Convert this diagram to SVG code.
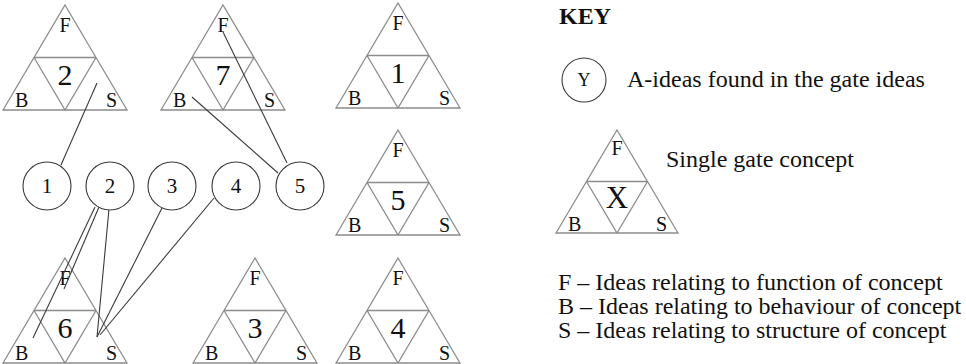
<svg xmlns="http://www.w3.org/2000/svg" xmlns:xlink="http://www.w3.org/1999/xlink" width="966" height="364" viewBox="0 0 966 364" font-family="'Liberation Serif', 'DejaVu Serif', serif">
<style>
  .tri { fill: none; stroke: #8c8c8c; stroke-width: 1.3; }
  .circ { fill: #ffffff; stroke: #3a3a3a; stroke-width: 1.1; }
  .conn { stroke: #3a3a3a; stroke-width: 1.1; fill: none; }
  text { font-family: 'Liberation Serif', 'DejaVu Serif', serif; fill: #111; }
  .lbl { font-size: 20px; }
  .num { font-size: 30px; text-anchor: middle; }
  .cnum { font-size: 21px; text-anchor: middle; }
  .mid { text-anchor: middle; }
  .end { text-anchor: end; }
  .key { font-size: 24px; }
</style>
<defs>
  <path id="triShape" class="tri" d="M0,0 L62,105 L-62,105 Z M-31,52.5 L31,52.5 M-31,52.5 L0,105 L31,52.5"/>
</defs>
<rect width="966" height="364" fill="#ffffff"/>

<g id="gate-2" transform="translate(65,5)">
  <use xlink:href="#triShape"/>
  <text class="lbl mid" x="0" y="27">F</text>
  <text class="num" x="0" y="80">2</text>
  <text class="lbl" x="-50" y="102">B</text>
  <text class="lbl end" x="52" y="102">S</text>
</g>
<g id="gate-7" transform="translate(223,5)">
  <use xlink:href="#triShape"/>
  <text class="lbl mid" x="0" y="27">F</text>
  <text class="num" x="0" y="80">7</text>
  <text class="lbl" x="-50" y="102">B</text>
  <text class="lbl end" x="52" y="102">S</text>
</g>
<g id="gate-1" transform="translate(398,3)">
  <use xlink:href="#triShape"/>
  <text class="lbl mid" x="0" y="27">F</text>
  <text class="num" x="0" y="80">1</text>
  <text class="lbl" x="-50" y="102">B</text>
  <text class="lbl end" x="52" y="102">S</text>
</g>
<g id="gate-5" transform="translate(398,130)">
  <use xlink:href="#triShape"/>
  <text class="lbl mid" x="0" y="27">F</text>
  <text class="num" x="0" y="80">5</text>
  <text class="lbl" x="-50" y="102">B</text>
  <text class="lbl end" x="52" y="102">S</text>
</g>
<g id="gate-6" transform="translate(65,258)">
  <use xlink:href="#triShape"/>
  <text class="lbl mid" x="0" y="27">F</text>
  <text class="num" x="0" y="80">6</text>
  <text class="lbl" x="-50" y="102">B</text>
  <text class="lbl end" x="52" y="102">S</text>
</g>
<g id="gate-3" transform="translate(255,258)">
  <use xlink:href="#triShape"/>
  <text class="lbl mid" x="0" y="27">F</text>
  <text class="num" x="0" y="80">3</text>
  <text class="lbl" x="-50" y="102">B</text>
  <text class="lbl end" x="52" y="102">S</text>
</g>
<g id="gate-4" transform="translate(398,258)">
  <use xlink:href="#triShape"/>
  <text class="lbl mid" x="0" y="27">F</text>
  <text class="num" x="0" y="80">4</text>
  <text class="lbl" x="-50" y="102">B</text>
  <text class="lbl end" x="52" y="102">S</text>
</g>

<g id="connectors">
  <line class="conn" x1="61" y1="165" x2="97" y2="83"/>
  <line class="conn" x1="287" y1="163" x2="223" y2="32"/>
  <line class="conn" x1="278" y1="173" x2="192" y2="97"/>
  <line class="conn" x1="95" y1="207" x2="33" y2="338"/>
  <line class="conn" x1="99" y1="207" x2="64" y2="289"/>
  <line class="conn" x1="109" y1="209" x2="97" y2="337"/>
  <line class="conn" x1="162" y1="208" x2="97" y2="337"/>
  <line class="conn" x1="214" y1="198" x2="100" y2="335"/>
</g>

<g id="idea-1"><circle class="circ" cx="47" cy="186" r="24"/><text class="cnum" x="47" y="193">1</text></g>
<g id="idea-2"><circle class="circ" cx="110" cy="186" r="24"/><text class="cnum" x="110" y="193">2</text></g>
<g id="idea-3"><circle class="circ" cx="172" cy="186" r="24"/><text class="cnum" x="172" y="193">3</text></g>
<g id="idea-4"><circle class="circ" cx="236" cy="186" r="24"/><text class="cnum" x="236" y="193">4</text></g>
<g id="idea-5"><circle class="circ" cx="300" cy="186" r="24"/><text class="cnum" x="300" y="193">5</text></g>

<g id="key">
  <text x="559" y="24" style="font-size:24px;font-weight:bold">KEY</text>
  <g id="key-circle">
    <circle class="circ" cx="584" cy="80" r="22"/>
    <text class="mid" x="584" y="86" style="font-size:18px">Y</text>
  </g>
  <text class="key" x="627" y="87">A-ideas found in the gate ideas</text>
  <g id="key-triangle" transform="translate(617,130)">
    <path class="tri" d="M0,0 L61,103 L-61,103 Z M-30.5,51.5 L30.5,51.5 M-30.5,51.5 L0,103 L30.5,51.5"/>
    <text class="lbl mid" x="0" y="25">F</text>
    <text class="num" x="0" y="78" style="font-size:31px">X</text>
    <text class="lbl" x="-49" y="101">B</text>
    <text class="lbl end" x="50" y="101">S</text>
  </g>
  <text class="key" x="666" y="167">Single gate concept</text>
  <text class="key" x="558" y="290">F – Ideas relating to function of concept</text>
  <text class="key" x="558" y="314">B – Ideas relating to behaviour of concept</text>
  <text class="key" x="558" y="338">S – Ideas relating to structure of concept</text>
</g>
</svg>
